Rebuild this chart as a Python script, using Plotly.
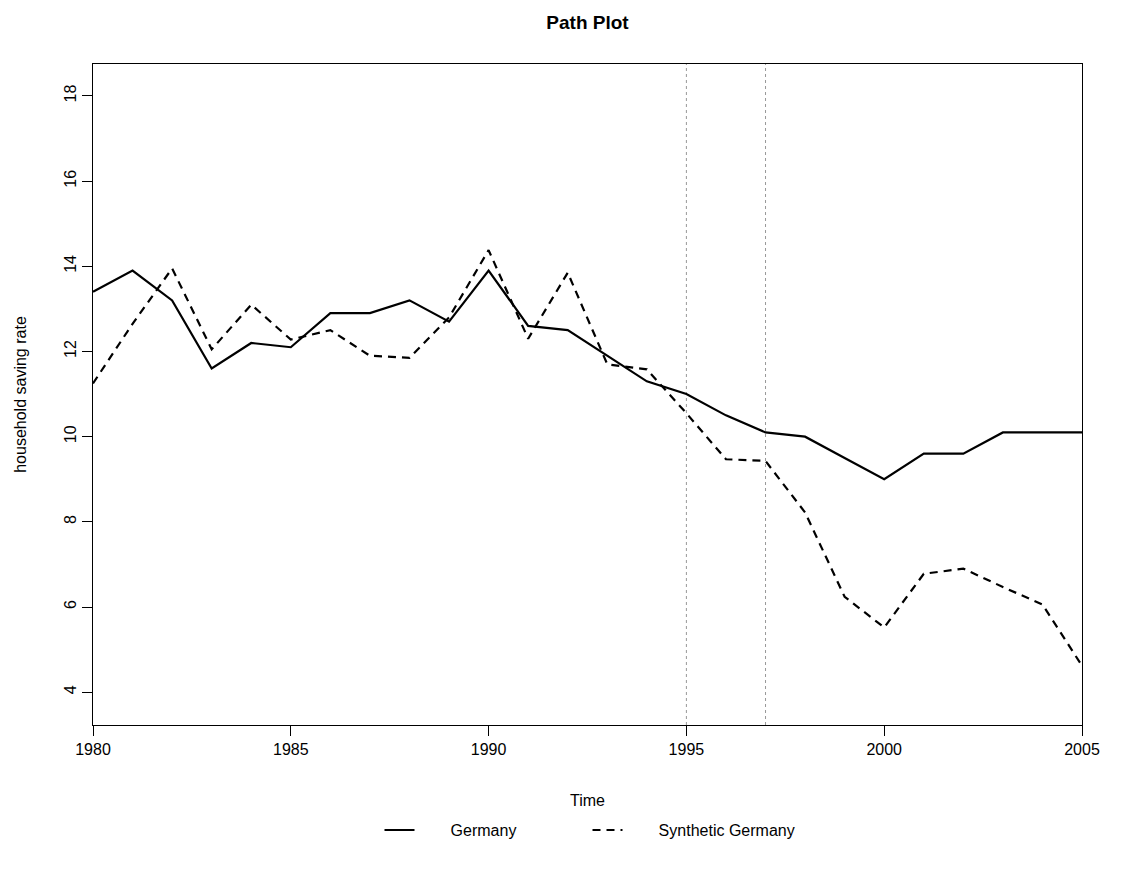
import plotly.graph_objects as go

years = list(range(1980, 2006))
germany = [13.4, 13.9, 13.2, 11.6, 12.2, 12.1, 12.9, 12.9, 13.2, 12.7,
           13.9, 12.6, 12.5, 11.9, 11.3, 11.0, 10.5, 10.1, 10.0, 9.5,
           9.0, 9.6, 9.6, 10.1, 10.1, 10.1]
synthetic = [11.25, 12.65, 13.95, 12.05, 13.1, 12.28, 12.5, 11.9, 11.85, 12.8,
             14.38, 12.3, 13.85, 11.7, 11.58, 10.55, 9.47, 9.43, 8.22, 6.24,
             5.52, 6.78, 6.9, 6.47, 6.06, 4.62]
event_years = [1995, 1997]
x_ticks = [1980, 1985, 1990, 1995, 2000, 2005]
y_ticks = [4, 6, 8, 10, 12, 14, 16, 18]
series_names = ["Germany", "Synthetic Germany"]

FONT = "Liberation Sans, Arial, Helvetica, sans-serif"
PAD = "\u00a0" * 7

fig = go.Figure()
fig.add_trace(go.Scatter(x=years, y=germany, mode="lines", name=PAD + series_names[0],
                         line=dict(color="black", width=2.2)))
fig.add_trace(go.Scatter(x=years, y=synthetic, mode="lines", name=PAD + series_names[1],
                         line=dict(color="black", width=2.2, dash="8px,6px")))

for ev in event_years:
    fig.add_shape(type="line", xref="x", yref="paper", x0=ev, x1=ev, y0=0, y1=1,
                  line=dict(color="#999999", width=1, dash="dot"), layer="below")

fig.update_layout(
    width=1121, height=870,
    margin=dict(l=93, r=39, t=64, b=145),
    paper_bgcolor="white", plot_bgcolor="white",
    font=dict(family=FONT, size=16, color="black"),
    title=dict(text="<b>Path Plot</b>", x=0.5, xref="paper", xanchor="center",
               y=1 - 22 / 870, yref="container", yanchor="middle",
               font=dict(size=19, family=FONT, color="black")),
    showlegend=True,
    legend=dict(orientation="h", x=0.5, xanchor="center", y=-0.159, yanchor="middle",
                font=dict(size=16), entrywidth=163, entrywidthmode="pixels",
                bgcolor="rgba(0,0,0,0)"),
    xaxis=dict(range=[1980, 2005], tickvals=x_ticks, ticks="outside", ticklen=10,
               tickcolor="black", showline=True, linecolor="black", linewidth=1,
               mirror=True, showgrid=False, zeroline=False,
               title=dict(text="Time", standoff=37, font=dict(size=16))),
    yaxis=dict(range=[3.23, 18.75], tickvals=y_ticks, ticks="outside", ticklen=10,
               tickcolor="black", showline=True, linecolor="black", linewidth=1,
               mirror=True, showgrid=False, zeroline=False, tickangle=-90,
               title=dict(text="household saving rate", standoff=30, font=dict(size=16))),
)

fig.write_html("out.html")
